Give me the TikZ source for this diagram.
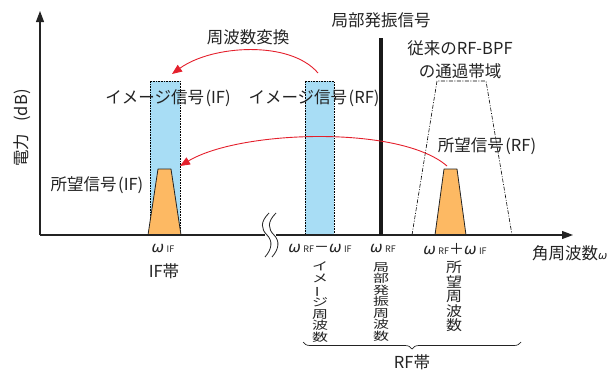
\documentclass[tikz,border=0pt]{standalone}
\usepackage{fontspec}
\setmainfont{Noto Sans CJK JP}
\newfontfamily\omfont{DejaVu Sans}
\usetikzlibrary{decorations.pathreplacing,arrows.meta}
\definecolor{sigblue}{RGB}{168,221,245}
\definecolor{sigorange}{RGB}{253,185,99}
\definecolor{arrred}{RGB}{228,32,44}
\definecolor{ink}{RGB}{35,35,35}
\newcommand\omlab[1]{{\omfont\itshape ω}\,{\fontsize{9}{9}\selectfont #1}}
\newcommand\pr[1]{\kern1.5pt(#1)}
\newcommand\vcol[2]{\scalebox{1}[#1]{\parbox{20pt}{\centering\fontsize{16}{16.5}\selectfont #2}}}
\begin{document}
\begin{tikzpicture}[x=1pt,y=-1pt,
  lab/.style={inner sep=0pt,text=ink,font=\fontsize{16.5}{19}\selectfont},
  biglab/.style={inner sep=0pt,text=ink,font=\fontsize{16.5}{19}\selectfont},
  vlab/.style={inner sep=0pt,text=ink,anchor=north},
  omg/.style={inner sep=0pt,text=ink,font=\fontsize{15}{16}\selectfont},
  axisline/.style={draw=ink,line width=1.1pt},
  band/.style={fill=sigblue,draw=black,densely dotted,line width=0.6pt},
  want/.style={fill=sigorange,draw=ink,line width=0.8pt,line join=round},
  bpf/.style={draw=black,dash pattern=on 4pt off 1.5pt on 1pt off 1.5pt,line width=0.6pt},
  conv/.style={draw=arrred,line width=0.9pt,-{Triangle[length=10pt,width=8pt]}}]
\useasboundingbox (0,0) rectangle (609,372);

% signal shapes
\path[band] (150,235) rectangle (180,81);
\path[band] (305,235) rectangle (334,81);
\path[want] (148,235) -- (158,169) -- (171,169) -- (181,235) -- cycle;
\path[want] (435,235) -- (444,169) -- (457,169) -- (466,235) -- cycle;
\path[bpf] (412,235) -- (437,81) -- (486,81) -- (512,235);

% named points
\coordinate (ifimg) at (172,74);
\coordinate (rfimg) at (318,73);
\coordinate (ifwant) at (180,166);
\coordinate (rfwant) at (447,166);
\coordinate (lotop) at (381,38);
\coordinate (lobot) at (381,235);

% axes
\coordinate (org) at (40,235);
\coordinate (ytip) at (40,11);
\coordinate (xtip) at (573,235);
\draw[axisline,-{Triangle[length=11pt,width=8pt]}] (org) -- (ytip);
\draw[axisline,-{Triangle[length=11pt,width=8pt]}] (org) -- (xtip);
\fill[white] (265,231) rectangle (276,239);
\draw[ink,line width=0.8pt] (269,213) .. controls (260,222) and (261,229) .. (267,235) .. controls (273,241) and (272,249) .. (265,257);
\draw[ink,line width=0.8pt] (276,213) .. controls (267,222) and (268,229) .. (274,235) .. controls (280,241) and (279,249) .. (272,257);

% local oscillator
\draw[black!90,line width=4pt] (lotop) -- (lobot);

% conversion arrows
\draw[conv] (rfimg) .. controls (290,40) and (212,45) .. (ifimg);
\draw[conv] (rfwant) .. controls (400,125) and (240,130) .. (ifwant);

% labels
\node[biglab] (convlab) at (248,37) {周波数変換};
\node[biglab] (lolab) at (381,20) {局部発振信号};
\node[lab] (bpflab1) at (460,48) {従来のRF-BPF};
\node[lab] (bpflab2) at (460,71) {の通過帯域};
\node[lab] (imgif) at (168,98) {イメージ信号\pr{IF}};
\node[lab] (imgrf) at (314,98) {イメージ信号\pr{RF}};
\node[lab] (wantif) at (97,185) {所望信号\pr{IF}};
\node[lab] (wantrf) at (487,146) {所望信号\pr{RF}};
\node[lab,rotate=90] (ylab) at (22,128) {電力\kern12pt(dB)};
\node[lab,anchor=west] (xlab) at (532,253) {角周波数{\fontsize{11}{11}\selectfont\omfont\itshape ω}};

\node[omg] (w1) at (163,249) {\omlab{IF}};
\node[lab] (ifband) at (164,271) {IF帯};
\node[omg] (w2) at (320,249) {\omlab{RF}－\omlab{IF}};
\node[omg] (w3) at (383,249) {\omlab{RF}};
\node[omg] (w4) at (455,249) {\omlab{RF}＋\omlab{IF}};

\node[vlab] (v1) at (320,262) {\vcol{0.7}{イ\\メ\\\rotatebox[origin=c]{90}{ー}\\ジ\\周\\波\\数}};
\node[vlab] (v2) at (381,262) {\vcol{0.7}{局\\部\\発\\振\\周\\波\\数}};
\node[vlab] (v3) at (454,261) {\vcol{0.88}{所\\望\\周\\波\\数}};

\draw[ink,line width=0.7pt,decorate,decoration={brace,amplitude=7pt,mirror}] (303,342) -- (521,342);
\node[lab] (rfband) at (412,362) {RF帯};
\end{tikzpicture}
\end{document}
